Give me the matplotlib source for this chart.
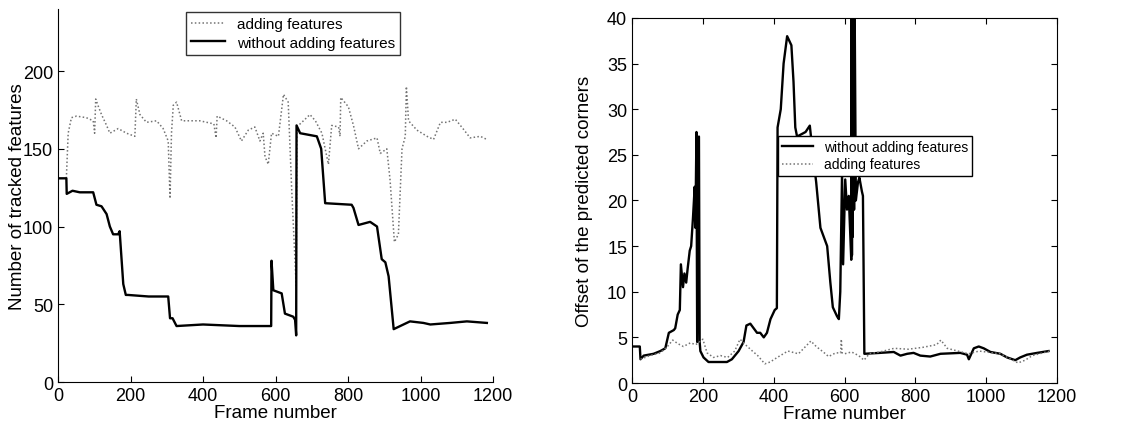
import matplotlib
matplotlib.use("Agg")
import matplotlib.pyplot as plt

plt.rcParams['font.family'] = ['Liberation Sans', 'DejaVu Sans']

# ---------------- Left panel data: number of tracked features ----------------
left_without_x = [0, 23, 24, 40, 60, 97, 106, 120, 134, 143, 152, 166, 170, 180, 187, 193,
                  250, 304, 309, 316, 327, 400, 500, 585, 588, 589, 594, 617, 626, 649, 654,
                  657, 658, 668, 714, 726, 737, 810, 815, 829, 861, 880, 893, 903, 912, 926,
                  944, 971, 1008, 1027, 1082, 1128, 1183]
left_without_y = [131, 131, 121, 123, 122, 122, 114, 113, 108, 100, 95, 95, 97, 63, 56, 56,
                  55, 55, 41, 41, 36, 37, 36, 36, 36, 78, 59, 57, 44, 42, 40,
                  30, 165, 160, 158, 150, 115, 114, 112, 101, 103, 100, 79, 77, 68, 34,
                  36, 39, 38, 37, 38, 39, 38]

left_adding_x = [23, 28, 37, 51, 78, 97, 101, 104, 110, 120, 134, 143, 166, 189, 212, 216,
                 226, 244, 272, 290, 304, 309, 313, 318, 327, 341, 391, 430, 436, 439, 465,
                 488, 506, 525, 543, 557, 566, 571, 580, 589, 608, 622, 635, 645, 657, 659,
                 668, 695, 710, 728, 746, 755, 774, 778, 780, 801, 815, 829, 852, 880, 889,
                 907, 916, 928, 939, 949, 958, 961, 967, 990, 1018, 1036, 1055, 1073, 1096,
                 1117, 1137, 1165, 1183]
left_adding_y = [131, 160, 170, 171, 170, 168, 160, 182, 178, 172, 165, 160, 163, 160, 158, 182,
                 172, 167, 168, 163, 155, 118, 160, 178, 180, 168, 168, 166, 157, 171, 168,
                 164, 155, 162, 164, 155, 160, 145, 140, 160, 158, 185, 180, 122, 62, 165,
                 166, 172, 168, 160, 140, 165, 164, 158, 183, 177, 165, 150, 155, 157, 147,
                 150, 130, 90, 95, 150, 158, 190, 168, 162, 158, 156, 167, 167, 169,
                 163, 157, 158, 156]

# ---------------- Right panel data: offset of predicted corners ----------------
right_without_x = [0, 22, 24, 33, 61, 80, 94, 104, 118, 122, 129, 135, 138, 144, 148, 153, 157,
                   163, 167, 172, 177, 179, 182, 184, 189, 191, 193, 202, 216, 268, 282, 301,
                   315, 323, 334, 353, 362, 372, 381, 391, 403, 409, 411, 420, 428, 438, 450,
                   456, 461, 466, 490, 502, 508, 520, 532, 551, 560, 567, 579, 584, 588, 593,
                   596, 602, 607, 612, 617, 619, 620, 621, 622, 623, 624, 625, 626, 627, 628,
                   632, 638, 642, 649, 652, 656, 700, 739, 758, 777, 795, 814, 842, 871, 927,
                   946, 951, 965, 979, 993, 1012, 1040, 1059, 1082, 1096, 1115, 1144, 1176]
right_without_y = [4.0, 4.0, 2.6, 3.0, 3.2, 3.5, 3.8, 5.5, 5.8, 6.0, 7.5, 8.0, 13.0, 10.5, 12.0,
                   11.0, 12.5, 14.5, 15.0, 18.0, 21.5, 17.0, 27.5, 4.5, 27.0, 4.5, 3.5, 2.8,
                   2.3, 2.3, 2.6, 3.5, 4.5, 6.3, 6.5, 5.5, 5.5, 5.0, 5.5, 7.0, 8.0, 8.2, 28.0,
                   30.0, 35.0, 38.0, 37.0, 33.0, 28.0, 27.0, 27.5, 28.2, 26.0, 22.0, 17.0, 15.0,
                   11.0, 8.3, 7.3, 7.0, 10.0, 23.0, 13.0, 22.3, 19.0, 20.5, 15.5, 13.5, 45, 14,
                   45, 16, 45, 19, 45, 19, 45, 20.0, 22.0, 22.5, 21.0, 20.5, 3.2, 3.3, 3.4, 3.0,
                   3.2, 3.3, 3.0, 2.9, 3.2, 3.3, 3.1, 2.6, 3.8, 4.0, 3.8, 3.4, 3.2, 2.8, 2.5,
                   2.8, 3.1, 3.3, 3.5]

right_adding_x = [24, 50, 80, 100, 115, 130, 145, 165, 180, 190, 200, 212, 230, 250, 270, 290,
                  305, 320, 340, 355, 375, 390, 410, 440, 470, 495, 505, 520, 540, 555, 575,
                  589, 591, 593, 600, 620, 640, 655, 670, 700, 740, 780, 820, 860, 872, 890,
                  920, 950, 980, 1000, 1040, 1070, 1090, 1110, 1130, 1160, 1180]
right_adding_y = [2.6, 3.0, 3.3, 4.0, 4.7, 4.3, 4.0, 4.4, 4.2, 4.5, 4.8, 3.3, 2.8, 3.0, 2.8, 3.5,
                  4.8, 4.2, 3.5, 3.0, 2.1, 2.3, 2.8, 3.5, 3.2, 4.2, 4.6, 4.0, 3.4, 2.9, 3.3,
                  3.3, 4.8, 3.3, 3.2, 3.4, 3.0, 2.5, 3.2, 3.4, 3.8, 3.7, 3.9, 4.2, 4.7, 3.8,
                  3.5, 3.2, 3.5, 3.4, 3.2, 2.6, 2.2, 2.5, 3.0, 3.3, 3.5]

x_ticks = [0, 200, 400, 600, 800, 1000, 1200]
left_yticks = [0, 50, 100, 150, 200]
right_yticks = [0, 5, 10, 15, 20, 25, 30, 35, 40]

fig = plt.figure(figsize=(11.31, 4.27), dpi=100)
axL = fig.add_axes([0.0513, 0.103, 0.3846, 0.874])
axR = fig.add_axes([0.5588, 0.1007, 0.3758, 0.855])

dot_style = dict(color='0.45', linestyle=(0, (1, 1.5)), linewidth=1.1)
solid_style = dict(color='black', linewidth=1.7)

# Left
axL.plot(left_adding_x, left_adding_y, label='adding features', **dot_style)
axL.plot(left_without_x, left_without_y, label='without adding features', **solid_style)
axL.set_xlim(0, 1200)
axL.set_ylim(0, 240)
axL.set_xticks(x_ticks)
axL.set_yticks(left_yticks)
axL.spines['top'].set_visible(False)
axL.spines['right'].set_visible(False)
axL.tick_params(direction='in', labelsize=13, length=4)
axL.set_xlabel('Frame number', fontsize=13.5, labelpad=0)
axL.set_ylabel('Number of tracked features', fontsize=13.5, labelpad=-2)
legL = axL.legend(loc='upper center', bbox_to_anchor=(0.54, 0.992), fontsize=11,
                  fancybox=False, edgecolor='black', borderaxespad=0, handlelength=2.2,
                  borderpad=0.35, labelspacing=0.3)
legL.get_frame().set_linewidth(1.0)

# Right
axR.plot(right_without_x, right_without_y, label='without adding features', **solid_style)
axR.plot(right_adding_x, right_adding_y, label='adding features', **dot_style)
axR.set_xlim(0, 1200)
axR.set_ylim(0, 40)
axR.set_xticks(x_ticks)
axR.set_yticks(right_yticks)
axR.tick_params(direction='in', labelsize=13, length=4, top=True, right=True)
axR.set_xlabel('Frame number', fontsize=13.5, labelpad=0)
axR.set_ylabel('Offset of the predicted corners', fontsize=13.5, labelpad=10)
legR = axR.legend(loc='upper left', bbox_to_anchor=(0.344, 0.677), fontsize=10,
                  fancybox=False, edgecolor='black', borderaxespad=0, handlelength=2.2,
                  borderpad=0.3, labelspacing=0.25, framealpha=1)
legR.get_frame().set_linewidth(1.0)

fig.savefig('out.png', dpi=100)
